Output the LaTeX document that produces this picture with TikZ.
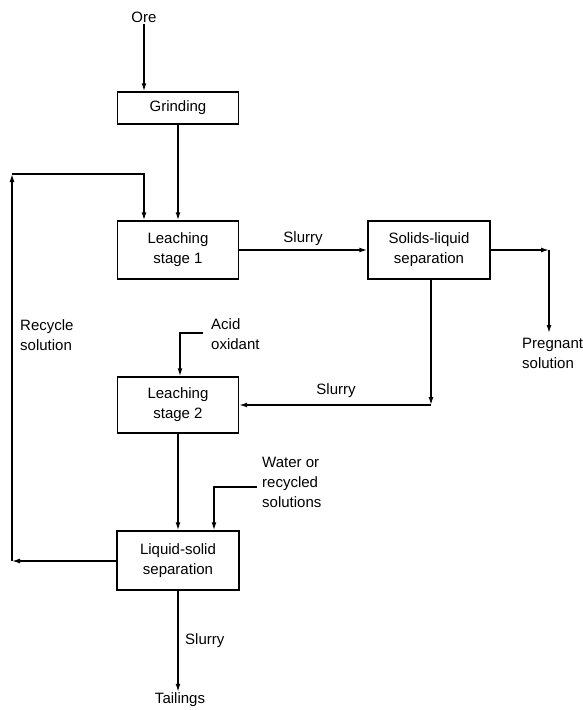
\documentclass[tikz,border=0pt]{standalone}
\usepackage{fontspec}
\setmainfont{Liberation Sans}
\usetikzlibrary{arrows.meta,calc}
\begin{document}
\begin{tikzpicture}[x=1pt,y=-1pt,
  box/.style={draw,line width=1.4pt,align=center,inner sep=0pt,minimum width=121pt,font=\fontsize{15}{20}\selectfont},
  lbl/.style={inner sep=1pt,font=\fontsize{15}{20}\selectfont},
  arr/.style={line width=1.4pt,-{Latex[length=8pt,width=5pt]}}]
\useasboundingbox (0,0) rectangle (583,710);
\node[lbl] (ore) at (144,17) {Ore};
\node[box,minimum height=32pt] (grind) at (178,108) {Grinding};
\node[box,minimum height=58pt] (l1) at (178,250) {Leaching\\stage 1};
\node[box,minimum width=122pt,minimum height=58pt] (sl) at (429,250) {Solids-liquid\\separation};
\node[box,minimum height=56pt] (l2) at (178,405) {Leaching\\stage 2};
\node[box,minimum width=122pt,minimum height=59pt] (ls) at (178,560.5) {Liquid-solid\\separation};
\node[lbl] (tail) at (180,700) {Tailings};
\node[lbl,align=left,anchor=west] (preg) at (521,353) {Pregnant\\solution};
\node[lbl,align=left,anchor=west] (acid) at (210,334) {Acid\\oxidant};
\node[lbl,align=left,anchor=west] (water) at (261,482) {Water or\\recycled\\solutions};
\node[lbl,align=left,anchor=west] (rec) at (19,335) {Recycle\\solution};
\node[lbl] (s1) at (303,239) {Slurry};
\node[lbl] (s2) at (336,391) {Slurry};
\node[lbl,anchor=west] (s3) at (184,641) {Slurry};
% coordinates
\coordinate (ps) at (549,250);
\coordinate (pe) at (549,333);
\coordinate (sd) at (431,405);
\coordinate (a1) at (203,333);
\coordinate (a2) at (180,333);
\coordinate (w1) at (257,487);
\coordinate (w2) at (214,487);
\coordinate (r1) at (12,561);
\coordinate (r2) at (12,174);
\coordinate (r3) at (144,174);
% connectors
\draw[arr] (ore.south) -- (ore.south |- grind.north);
\draw[arr] (grind.south) -- (l1.north);
\draw[arr] (l1.east) -- (sl.west);
\draw[arr] (sl.east) -- (ps);
\draw[arr] (ps) -- (pe);
\draw[arr] (sl.south -| sd) -- (sd);
\draw[arr] (sd) -- (sd -| l2.east);
\draw[arr] (a1) -- (a2) -- (a2 |- l2.north);
\draw[arr] (l2.south) -- (ls.north);
\draw[arr] (w1) -- (w2) -- (w2 |- ls.north);
\draw[arr] (ls.west |- r1) -- (r1);
\draw[arr] (r1) -- (r2);
\draw[arr] (r2) -- (r3) -- (r3 |- l1.north);
\draw[arr] (ls.south) -- (ls.south |- tail.north);
\end{tikzpicture}
\end{document}
